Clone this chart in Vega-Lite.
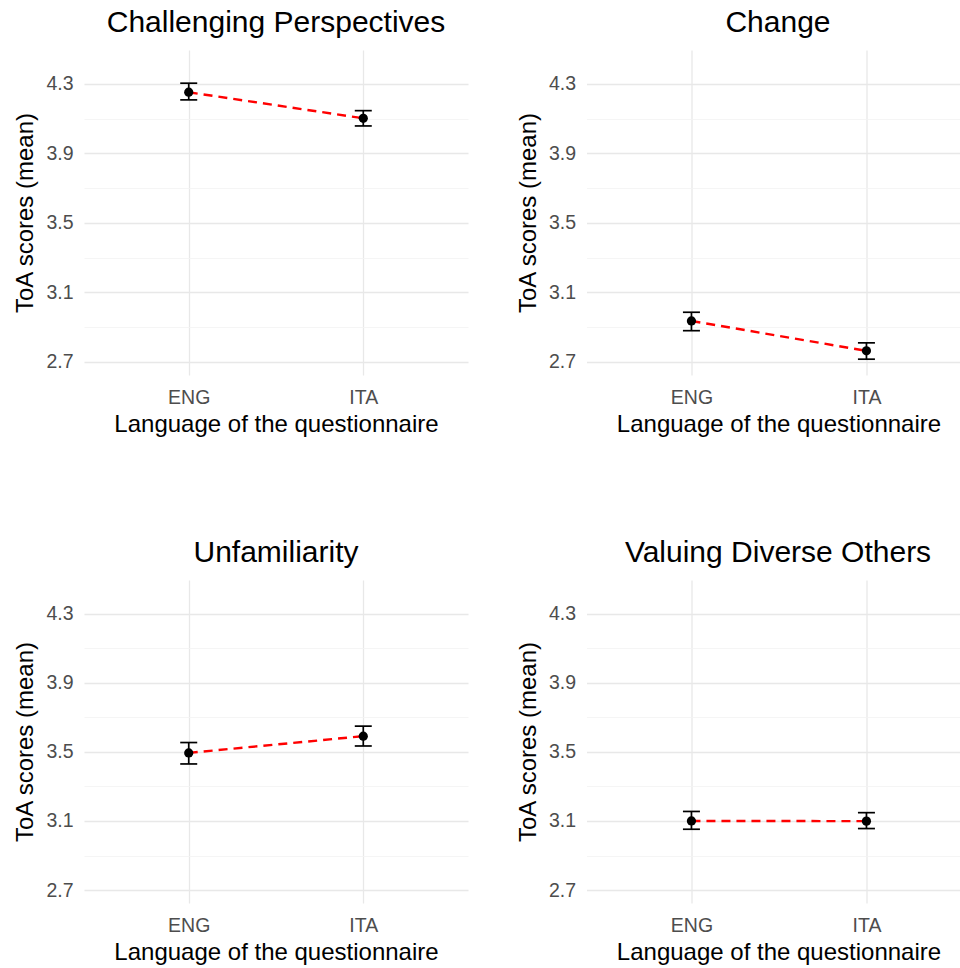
{
  "$schema": "https://vega.github.io/schema/vega-lite/v6.json",
  "background": "white",
  "padding": {"left": 13, "top": 8, "right": 0, "bottom": 0},
  "datasets": {
    "toa": [
      {"panel": "Challenging Perspectives", "lang": "ENG", "mean": 4.252, "lo": 4.208, "hi": 4.304},
      {"panel": "Challenging Perspectives", "lang": "ITA", "mean": 4.102, "lo": 4.058, "hi": 4.146},
      {"panel": "Change", "lang": "ENG", "mean": 2.936, "lo": 2.880, "hi": 2.986},
      {"panel": "Change", "lang": "ITA", "mean": 2.764, "lo": 2.716, "hi": 2.810},
      {"panel": "Unfamiliarity", "lang": "ENG", "mean": 3.494, "lo": 3.430, "hi": 3.554},
      {"panel": "Unfamiliarity", "lang": "ITA", "mean": 3.591, "lo": 3.534, "hi": 3.649},
      {"panel": "Valuing Diverse Others", "lang": "ENG", "mean": 3.100, "lo": 3.052, "hi": 3.155},
      {"panel": "Valuing Diverse Others", "lang": "ITA", "mean": 3.099, "lo": 3.056, "hi": 3.148}
    ]
  },
  "config": {
    "font": "Liberation Sans",
    "view": {"stroke": null},
    "title": {"fontSize": 30, "fontWeight": "normal", "color": "#000000", "anchor": "middle", "offset": 12},
    "axis": {
      "domain": false,
      "ticks": false,
      "labelFont": "Liberation Sans",
      "titleFont": "Liberation Sans",
      "labelFontSize": 19.5,
      "labelColor": "#4d4d4d",
      "titleFontSize": 24,
      "titleFontWeight": "normal",
      "titleColor": "#000000",
      "gridColor": "#e8e8e8",
      "gridWidth": 1.3
    },
    "axisX": {"labelPadding": 13, "titlePadding": 6, "labelAngle": 0, "grid": true},
    "axisY": {"labelPadding": 11, "titlePadding": 8}
  },
  "columns": 2,
  "bounds": "flush",
  "spacing": {"row": 205, "column": 118.5},
  "concat": [
    {
      "title": {"text": "Challenging Perspectives"},
      "width": 384, "height": 325,
      "data": {"name": "toa"},
      "transform": [{"filter": "datum.panel === 'Challenging Perspectives'"}],
      "encoding": {
        "x": {"field": "lang", "type": "nominal", "scale": {"type": "point", "padding": 0.6}, "axis": {"title": "Language of the questionnaire"}},
        "y": {"field": "mean", "type": "quantitative", "scale": {"domain": [2.625, 4.495], "nice": false, "zero": false},
          "axis": {"title": "ToA scores (mean)", "values": [2.7, 2.9, 3.1, 3.3, 3.5, 3.7, 3.9, 4.1, 4.3],
            "labelExpr": "round(datum.value*10) % 4 == 3 ? format(datum.value, '.1f') : ''",
            "gridColor": {"condition": {"test": "round(datum.value*10) % 4 == 3", "value": "#e8e8e8"}, "value": "#f3f3f3"},
            "gridWidth": {"condition": {"test": "round(datum.value*10) % 4 == 3", "value": 1.3}, "value": 0.8}}}
      },
      "layer": [
        {"mark": {"type": "line", "color": "#ff0000", "strokeDash": [9, 6], "strokeWidth": 2.4}},
        {"mark": {"type": "rule", "color": "#000000", "strokeWidth": 1.7}, "encoding": {"y": {"field": "lo", "type": "quantitative"}, "y2": {"field": "hi"}}},
        {"mark": {"type": "tick", "orient": "horizontal", "color": "#000000", "thickness": 1.7, "size": 17, "opacity": 1}, "encoding": {"y": {"field": "lo", "type": "quantitative"}}},
        {"mark": {"type": "tick", "orient": "horizontal", "color": "#000000", "thickness": 1.7, "size": 17, "opacity": 1}, "encoding": {"y": {"field": "hi", "type": "quantitative"}}},
        {"mark": {"type": "point", "filled": true, "color": "#000000", "size": 85, "opacity": 1}}
      ]
    },
    {
      "title": {"text": "Change", "dx": 5},
      "width": 373, "height": 325,
      "data": {"name": "toa"},
      "transform": [{"filter": "datum.panel === 'Change'"}],
      "encoding": {
        "x": {"field": "lang", "type": "nominal", "scale": {"type": "point", "padding": 0.5657, "align": 0.53}, "axis": {"title": "Language of the questionnaire", "titleX": 192}},
        "y": {"field": "mean", "type": "quantitative", "scale": {"domain": [2.625, 4.495], "nice": false, "zero": false},
          "axis": {"title": "ToA scores (mean)", "values": [2.7, 2.9, 3.1, 3.3, 3.5, 3.7, 3.9, 4.1, 4.3],
            "labelExpr": "round(datum.value*10) % 4 == 3 ? format(datum.value, '.1f') : ''",
            "gridColor": {"condition": {"test": "round(datum.value*10) % 4 == 3", "value": "#e8e8e8"}, "value": "#f3f3f3"},
            "gridWidth": {"condition": {"test": "round(datum.value*10) % 4 == 3", "value": 1.3}, "value": 0.8}}}
      },
      "layer": [
        {"mark": {"type": "line", "color": "#ff0000", "strokeDash": [9, 6], "strokeWidth": 2.4}},
        {"mark": {"type": "rule", "color": "#000000", "strokeWidth": 1.7}, "encoding": {"y": {"field": "lo", "type": "quantitative"}, "y2": {"field": "hi"}}},
        {"mark": {"type": "tick", "orient": "horizontal", "color": "#000000", "thickness": 1.7, "size": 17, "opacity": 1}, "encoding": {"y": {"field": "lo", "type": "quantitative"}}},
        {"mark": {"type": "tick", "orient": "horizontal", "color": "#000000", "thickness": 1.7, "size": 17, "opacity": 1}, "encoding": {"y": {"field": "hi", "type": "quantitative"}}},
        {"mark": {"type": "point", "filled": true, "color": "#000000", "size": 85, "opacity": 1}}
      ]
    },
    {
      "title": {"text": "Unfamiliarity"},
      "width": 384, "height": 323,
      "data": {"name": "toa"},
      "transform": [{"filter": "datum.panel === 'Unfamiliarity'"}],
      "encoding": {
        "x": {"field": "lang", "type": "nominal", "scale": {"type": "point", "padding": 0.6}, "axis": {"title": "Language of the questionnaire"}},
        "y": {"field": "mean", "type": "quantitative", "scale": {"domain": [2.625, 4.495], "nice": false, "zero": false},
          "axis": {"title": "ToA scores (mean)", "values": [2.7, 2.9, 3.1, 3.3, 3.5, 3.7, 3.9, 4.1, 4.3],
            "labelExpr": "round(datum.value*10) % 4 == 3 ? format(datum.value, '.1f') : ''",
            "gridColor": {"condition": {"test": "round(datum.value*10) % 4 == 3", "value": "#e8e8e8"}, "value": "#f3f3f3"},
            "gridWidth": {"condition": {"test": "round(datum.value*10) % 4 == 3", "value": 1.3}, "value": 0.8}}}
      },
      "layer": [
        {"mark": {"type": "line", "color": "#ff0000", "strokeDash": [9, 6], "strokeWidth": 2.4}},
        {"mark": {"type": "rule", "color": "#000000", "strokeWidth": 1.7}, "encoding": {"y": {"field": "lo", "type": "quantitative"}, "y2": {"field": "hi"}}},
        {"mark": {"type": "tick", "orient": "horizontal", "color": "#000000", "thickness": 1.7, "size": 17, "opacity": 1}, "encoding": {"y": {"field": "lo", "type": "quantitative"}}},
        {"mark": {"type": "tick", "orient": "horizontal", "color": "#000000", "thickness": 1.7, "size": 17, "opacity": 1}, "encoding": {"y": {"field": "hi", "type": "quantitative"}}},
        {"mark": {"type": "point", "filled": true, "color": "#000000", "size": 85, "opacity": 1}}
      ]
    },
    {
      "title": {"text": "Valuing Diverse Others", "dx": 5},
      "width": 373, "height": 323,
      "data": {"name": "toa"},
      "transform": [{"filter": "datum.panel === 'Valuing Diverse Others'"}],
      "encoding": {
        "x": {"field": "lang", "type": "nominal", "scale": {"type": "point", "padding": 0.5657, "align": 0.53}, "axis": {"title": "Language of the questionnaire", "titleX": 192}},
        "y": {"field": "mean", "type": "quantitative", "scale": {"domain": [2.625, 4.495], "nice": false, "zero": false},
          "axis": {"title": "ToA scores (mean)", "values": [2.7, 2.9, 3.1, 3.3, 3.5, 3.7, 3.9, 4.1, 4.3],
            "labelExpr": "round(datum.value*10) % 4 == 3 ? format(datum.value, '.1f') : ''",
            "gridColor": {"condition": {"test": "round(datum.value*10) % 4 == 3", "value": "#e8e8e8"}, "value": "#f3f3f3"},
            "gridWidth": {"condition": {"test": "round(datum.value*10) % 4 == 3", "value": 1.3}, "value": 0.8}}}
      },
      "layer": [
        {"mark": {"type": "line", "color": "#ff0000", "strokeDash": [9, 6], "strokeWidth": 2.4}},
        {"mark": {"type": "rule", "color": "#000000", "strokeWidth": 1.7}, "encoding": {"y": {"field": "lo", "type": "quantitative"}, "y2": {"field": "hi"}}},
        {"mark": {"type": "tick", "orient": "horizontal", "color": "#000000", "thickness": 1.7, "size": 17, "opacity": 1}, "encoding": {"y": {"field": "lo", "type": "quantitative"}}},
        {"mark": {"type": "tick", "orient": "horizontal", "color": "#000000", "thickness": 1.7, "size": 17, "opacity": 1}, "encoding": {"y": {"field": "hi", "type": "quantitative"}}},
        {"mark": {"type": "point", "filled": true, "color": "#000000", "size": 85, "opacity": 1}}
      ]
    }
  ]
}
